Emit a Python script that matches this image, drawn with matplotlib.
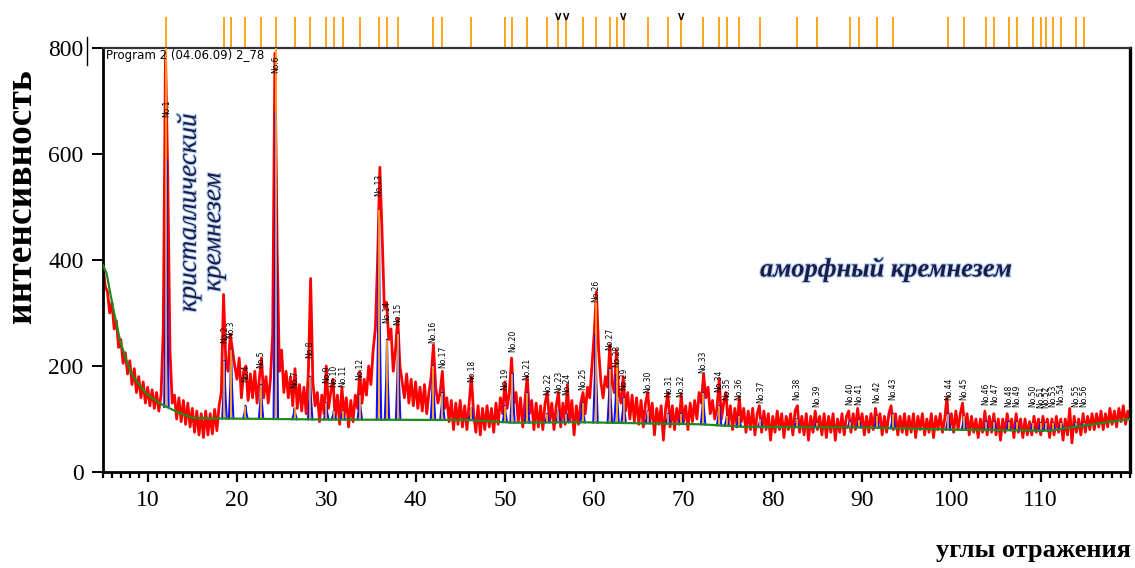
import matplotlib
matplotlib.use("Agg")
import matplotlib.pyplot as plt
import numpy as np
from matplotlib import patheffects
from matplotlib.lines import Line2D
from matplotlib.ticker import MultipleLocator

# scan grid, 2theta in degrees (0.25 deg step)
scan_step = 0.25
two_theta = np.arange(5.0, 120.0 + scan_step / 2, scan_step)

# observed counts, one row per 5 degrees
counts = [
    390, 350, 340, 300, 320, 270, 285, 235, 250, 205, 225, 185, 210, 165, 195, 150, 180, 140, 170, 130,  # 5
    160, 125, 155, 120, 150, 115, 145, 270, 790, 560, 230, 130, 145, 100, 140, 95, 135, 90, 130, 85,  # 10
    120, 75, 115, 70, 110, 65, 115, 70, 110, 72, 118, 78, 125, 150, 335, 210, 190, 260, 230, 200,  # 15
    175, 215, 140, 190, 200, 135, 185, 140, 190, 130, 175, 215, 140, 180, 130, 175, 260, 790, 420, 190,  # 20
    230, 150, 190, 140, 180, 125, 195, 120, 165, 115, 160, 110, 190, 365, 170, 125, 150, 95, 145, 110,  # 25
    200, 120, 150, 175, 100, 145, 90, 160, 105, 140, 85, 135, 95, 145, 120, 190, 130, 175, 145, 200,  # 30
    165, 230, 270, 400, 575, 450, 310, 320, 250, 270, 190, 230, 290, 200, 170, 140, 185, 130, 175, 125,  # 35
    170, 120, 160, 115, 165, 110, 150, 180, 240, 160, 130, 150, 190, 120, 140, 95, 135, 80, 130, 90,  # 40
    135, 85, 125, 80, 130, 180, 110, 75, 125, 70, 120, 80, 125, 85, 120, 75, 130, 90, 140, 110,  # 45
    170, 120, 150, 215, 130, 150, 95, 140, 85, 135, 180, 110, 135, 80, 130, 85, 125, 80, 130, 150,  # 50
    95, 130, 80, 125, 150, 85, 130, 90, 165, 95, 135, 70, 125, 90, 130, 150, 110, 160, 140, 200,  # 55
    260, 340, 230, 170, 140, 180, 160, 240, 170, 150, 230, 150, 130, 180, 115, 150, 100, 145, 95, 140,  # 60
    90, 135, 85, 130, 150, 95, 130, 70, 120, 90, 125, 60, 120, 150, 85, 125, 80, 120, 90, 145,  # 65
    95, 125, 80, 130, 95, 135, 100, 150, 130, 185, 140, 160, 110, 135, 100, 120, 175, 100, 130, 150,  # 70
    90, 125, 80, 120, 85, 140, 95, 120, 75, 115, 80, 120, 70, 110, 125, 75, 115, 80, 110, 60,  # 75
    105, 75, 115, 80, 110, 65, 105, 80, 110, 70, 115, 125, 75, 105, 70, 110, 60, 105, 75, 115,  # 80
    80, 105, 70, 110, 65, 105, 75, 110, 60, 100, 75, 110, 70, 105, 115, 75, 110, 80, 120, 85,  # 85
    110, 70, 105, 75, 110, 80, 120, 90, 110, 70, 105, 75, 110, 125, 80, 110, 70, 105, 75, 110,  # 90
    70, 105, 75, 110, 65, 105, 80, 110, 70, 100, 75, 110, 65, 105, 80, 110, 75, 100, 140, 80,  # 95
    110, 75, 115, 80, 110, 130, 80, 110, 70, 105, 75, 100, 65, 100, 75, 115, 70, 105, 75, 110,  # 100
    70, 100, 60, 100, 75, 110, 80, 100, 65, 110, 75, 100, 65, 100, 70, 95, 70, 105, 75, 100,  # 105
    70, 105, 80, 100, 65, 100, 70, 105, 75, 100, 60, 100, 70, 120, 55, 105, 75, 100, 70, 110,  # 110
    75, 105, 80, 110, 80, 110, 85, 115, 80, 110, 85, 120, 90, 115, 85, 120, 95, 125, 90, 115,  # 115
    100,
]
assert len(counts) == len(two_theta)

# fitted background (green)
bg_angle = [5.0, 5.4, 6.1, 6.9, 7.6, 8.35, 9.85, 11.3, 12.1, 13.6, 15.1, 18.0, 30.0, 46.0,
            51.0, 58.0, 72.0, 77.0, 90.0, 100.0, 111.0, 113.0, 116.6, 120.0]
bg_counts = [390, 375, 312, 249, 211, 180, 148, 130, 123, 111, 102, 101, 99, 98,
             93, 94, 90, 85, 84, 80, 78, 83, 92, 100]

# identified reflections No.1 ... No.56
peak_pos = [12.1, 18.6, 19.35, 20.95, 22.7, 24.35, 26.45, 28.2, 30.0, 30.85, 31.85, 33.75,
            35.9, 36.8, 38.05, 41.95, 43.0, 46.25, 50.0, 50.85, 52.5, 54.75, 56.0, 56.9,
            58.7, 60.15, 61.75, 62.5, 63.3, 66.0, 68.3, 69.75, 72.2, 74.0, 74.85, 76.2,
            78.6, 82.7, 84.9, 88.6, 89.65, 91.65, 93.45, 99.65, 101.4, 103.9, 104.8, 106.4,
            107.3, 109.1, 110.0, 110.55, 111.4, 112.3, 113.9, 114.8]
# top of the fitted profile (blue)
fit_top = [590, 210, 230, 125, 165, 680, 120, 180, 130, 115, 115, 145,
           480, 250, 260, 200, 150, 120, 125, 185, 150, 110, 115, 110,
           130, 260, 195, 185, 140, 115, 110, 110, 150, 125, 105, 105,
           100, 100, 92, 95, 98, 105, 110, 110, 105, 95, 95, 95,
           95, 92, 92, 92, 92, 92, 92, 92]
# top of the peak marker (orange)
stick_top = [800, 210, 230, 125, 165, 800, 120, 180, 130, 115, 115, 145,
             495, 250, 260, 200, 150, 120, 125, 185, 150, 110, 115, 110,
             130, 330, 195, 210, 140, 115, 110, 110, 150, 125, 105, 105,
             100, 100, 92, 95, 98, 105, 110, 110, 105, 95, 95, 95,
             95, 92, 92, 92, 92, 92, 92, 92]
# lower end of each "No." label
label_base = [670, 243, 253, 170, 196, 753, 158, 215, 168, 160, 160, 174,
              520, 281, 277, 243, 196, 170, 155, 226, 174, 145, 149, 145,
              155, 321, 230, 198, 155, 149, 142, 142, 187, 151, 136, 136,
              130, 136, 123, 126, 126, 130, 136, 136, 136, 126, 126, 123,
              123, 123, 120, 120, 123, 126, 123, 123]
# reflections flagged at the top of the chart
flagged = [23, 24, 29, 32]

RED = "#ff0000"
BLUE = "#1010ff"
ORANGE = "#ffa31a"
GREEN = "#1f8a1f"
SERIF = ["Liberation Serif", "DejaVu Serif"]

fig = plt.figure(figsize=(11.35, 5.68), dpi=100)
ax = fig.add_axes([103 / 1135, 1 - 472 / 568, 1027 / 1135, 424 / 568])

ax.plot(two_theta, counts, color=RED, lw=2.0, zorder=2)

# fitted peak profiles and markers
bg_at_peak = np.interp(peak_pos, bg_angle, bg_counts)
hw = 0.25
for p, b, top in zip(peak_pos, bg_at_peak, fit_top):
    ax.plot([p - hw, p - hw / 3, p, p + hw / 3, p + hw],
            [b, b + (top - b) * 0.5, top, b + (top - b) * 0.5, b],
            color=BLUE, lw=1.5, zorder=3)
ax.vlines(peak_pos, bg_at_peak, stick_top, color=ORANGE, lw=1.3, zorder=4)
ax.plot(bg_angle, bg_counts, color=GREEN, lw=1.6, zorder=5)

for i, (p, yb) in enumerate(zip(peak_pos, label_base)):
    ax.text(p, yb, f"No.{i + 1}", rotation=90, ha="center", va="bottom",
            fontsize=5.5, family="DejaVu Sans", zorder=6, clip_on=False)

# reference marks above the frame
ax.vlines(peak_pos, 1.0, 1.072, transform=ax.get_xaxis_transform(),
          color=ORANGE, lw=1.4, clip_on=False)
for k in flagged:
    ax.text(peak_pos[k - 1], 1.062, "V", transform=ax.get_xaxis_transform(),
            ha="center", va="bottom", fontsize=6, fontweight="bold", clip_on=False)

ax.text(0.003, 0.998, "Program 2 (04.06.09) 2_78", transform=ax.transAxes,
        ha="left", va="top", fontsize=8.5, family="DejaVu Sans", zorder=7)

shadow = [patheffects.withStroke(linewidth=1.6, foreground="#b8d4f2")]
ax.text(14.6, 490, "кристаллический", rotation=90, ha="center", va="center",
        fontsize=19.5, style="italic", family=SERIF, color="#1c1c4a",
        path_effects=shadow, zorder=7)
ax.text(17.4, 453, "кремнезем", rotation=90, ha="center", va="center",
        fontsize=19.5, style="italic", family=SERIF, color="#1c1c4a",
        path_effects=shadow, zorder=7)
ax.text(92.7, 382, "аморфный кремнезем", ha="center", va="center",
        fontsize=19, style="italic", fontweight="bold", family=SERIF,
        color="#1c1c4a", path_effects=shadow, zorder=7)

ax.set_xlim(5, 120)
ax.set_ylim(0, 800)
ax.set_xticks(range(10, 111, 10))
ax.xaxis.set_minor_locator(MultipleLocator(1))
ax.yaxis.set_major_locator(MultipleLocator(200))
ax.tick_params(axis="x", which="major", direction="out", length=7, width=1.6,
               pad=6, labelsize=17)
ax.tick_params(axis="x", which="minor", direction="out", length=4.5, width=1.6)
ax.tick_params(axis="y", direction="out", length=8, width=1.4, pad=6, labelsize=17)
for lab in ax.get_xticklabels() + ax.get_yticklabels():
    lab.set_family(SERIF)

for side, lw in (("left", 2.0), ("bottom", 2.0), ("right", 2.4), ("top", 1.6)):
    ax.spines[side].set_linewidth(lw)
ax.spines["top"].set_color("#333333")

fig.text(22 / 1135, 1 - 196 / 568, "интенсивность", rotation=90, ha="center",
         va="center", fontsize=27, fontweight="bold", family=SERIF)
fig.text(1033 / 1135, 1 - 551 / 568, "углы отражения", ha="center", va="center",
         fontsize=19, fontweight="bold", family=SERIF)
fig.add_artist(Line2D([87 / 1135, 87 / 1135], [1 - 37 / 568, 1 - 65 / 568],
                      color="black", lw=1.0))

fig.savefig("out.png", dpi=100)
